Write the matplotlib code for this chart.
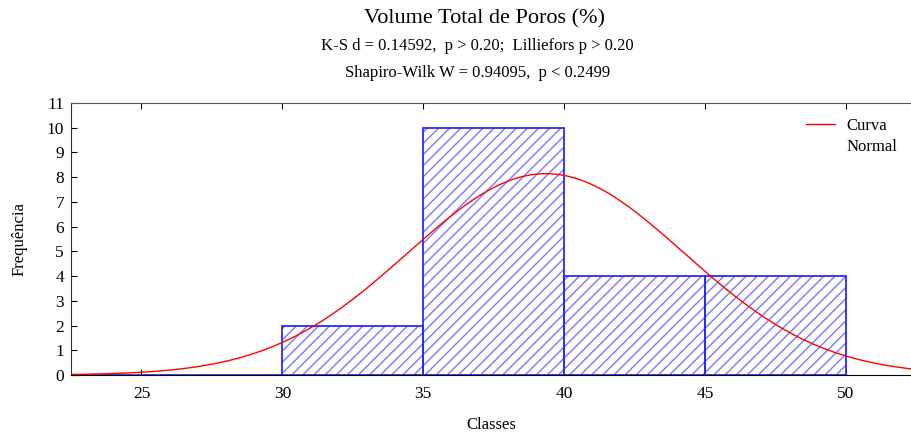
import numpy as np
import matplotlib.pyplot as plt
from matplotlib.lines import Line2D

# classes do histograma (limites) e frequencias observadas
limites = [20, 25, 30, 35, 40, 45, 50]
frequencias = [0, 0, 2, 10, 4, 4]
n_total = 20
media = 39.35
desvio = 4.9

plt.rcParams['font.family'] = ['Liberation Serif', 'DejaVu Serif']
plt.rcParams['hatch.linewidth'] = 1.0

fig = plt.figure(figsize=(9.12, 4.36), dpi=100)
ax = fig.add_axes([71 / 912, 1 - 375 / 436, (912 - 71) / 912, 272 / 436])

larguras = np.diff(limites)
esquerdas = np.array(limites[:-1])

# preenchimento hachurado (linhas azul claro) e contorno azul
ax.bar(esquerdas, frequencias, width=larguras, align='edge', color='white',
       edgecolor='#7878ff', hatch='///', linewidth=0, zorder=2)
ax.bar(esquerdas, frequencias, width=larguras, align='edge', fill=False,
       edgecolor='#2a2aff', linewidth=1.3, zorder=3)

# curva normal ajustada, escalada para frequencias
x = np.linspace(22.5, 52.5, 400)
h = limites[1] - limites[0]
y = n_total * h / (desvio * np.sqrt(2 * np.pi)) * np.exp(-0.5 * ((x - media) / desvio) ** 2)
ax.plot(x, y, color='red', linewidth=1.0, zorder=4)

ax.set_xlim(22.5, 52.34)
ax.set_ylim(0, 11)
ax.set_xticks([25, 30, 35, 40, 45, 50])
ax.set_yticks(range(0, 12))
ax.tick_params(axis='both', direction='in', length=4, labelsize=12.5, top=True, width=0.8)
ax.tick_params(axis='x', pad=8)
ax.tick_params(axis='y', pad=5)
ax.spines['right'].set_visible(False)
ax.spines['top'].set_color('#555555')
ax.spines['left'].set_color('#333333')
ax.spines['bottom'].set_color('black')

ax.set_xlabel('Classes', fontsize=12, labelpad=11)
ax.set_ylabel('Frequência', fontsize=12, labelpad=14)

fig.text(485 / 912, 1 - 19 / 436, 'Volume Total de Poros (%)', ha='center', va='center', fontsize=16)
fig.text(477 / 912, 1 - 46 / 436, 'K-S d = 0.14592,  p > 0.20;  Lilliefors p > 0.20',
         ha='center', va='center', fontsize=12)
fig.text(478 / 912, 1 - 73 / 436, 'Shapiro-Wilk W = 0.94095,  p < 0.2499',
         ha='center', va='center', fontsize=12)

# legenda: linha vermelha ao lado de "Curva", "Normal" na linha de baixo
handles = [Line2D([], [], color='red', linewidth=1.0),
           Line2D([], [], color='none')]
ax.legend(handles, ['Curva', 'Normal'], loc='upper right', bbox_to_anchor=(1.0, 1.0),
          frameon=False, fontsize=12, handlelength=1.75, handletextpad=0.65,
          labelspacing=0.3)

fig.savefig('out.png', dpi=100)
